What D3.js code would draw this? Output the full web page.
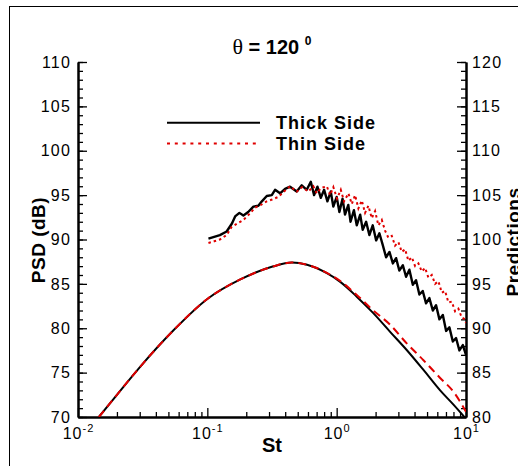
<!DOCTYPE html>
<html>
<head>
<meta charset="utf-8">
<script src="https://cdn.jsdelivr.net/npm/d3@7"></script>
<style>
  html, body { margin: 0; padding: 0; background: #fff; }
  svg { display: block; }
  text { font-family: "Liberation Sans", Arial, sans-serif; fill: #000; }
</style>
</head>
<body>
<svg id="chart" width="518" height="466"></svg>
<script>
// ---------------- DATA ----------------
const titleAngle = "120";
const xTickValues = [0.01, 0.1, 1, 10];
const xTickExps = ["-2", "-1", "0", "1"];
const yLeftTicks = [70, 75, 80, 85, 90, 95, 100, 105, 110];
const yRightTicks = [80, 85, 90, 95, 100, 105, 110, 115, 120];
const seriesNames = ["Thick Side", "Thin Side"];

// measured spectra (left axis, PSD dB)
const thickSt = [0.102,0.125,0.141,0.155,0.164,0.177,0.190,0.207,0.227,0.248,0.264,0.288,0.315,0.334,0.365,0.399,0.436,0.491,0.537,0.587,0.631,0.669,0.710,0.754,0.800,0.848,0.900,0.942,1.00,1.05,1.11,1.16,1.23,1.28,1.36,1.43,1.52,1.59,1.69,1.79,1.90,2.02,2.14,2.27,2.41,2.56,2.72,2.88,3.05,3.25,3.44,3.65,3.88,4.11,4.36,4.63,4.91,5.21,5.54,5.87,6.23,6.62,7.02,7.44,7.91,8.38,8.89,9.45,10.0];
const thickPSD = [90.1,90.5,90.9,91.8,92.6,93.0,92.7,93.1,93.7,93.8,94.3,94.9,95.0,95.6,95.2,95.7,95.95,95.4,96.1,95.6,96.5,95.0,95.95,94.7,95.6,94.3,95.4,93.7,94.8,93.1,94.6,92.8,93.9,92.0,93.3,91.6,92.8,91.1,92.0,90.5,91.6,89.9,90.7,89.4,88.0,88.6,87.3,87.9,86.5,87.1,85.8,86.6,84.9,85.4,83.8,84.2,82.8,83.4,82.0,82.6,81.0,81.5,79.7,80.1,78.5,78.9,77.5,78.1,77.0];

const thinSt = [0.102,0.113,0.125,0.141,0.154,0.170,0.190,0.214,0.234,0.260,0.288,0.317,0.354,0.392,0.436,0.491,0.540,0.604,0.660,0.702,0.757,0.839,0.889,0.943,1.007,1.076,1.141,1.232,1.309,1.388,1.472,1.564,1.658,1.759,1.868,1.982,2.101,2.233,2.367,2.511,2.668,2.829,3.001,3.188,3.381,3.585,3.809,4.041,4.285,4.552,4.828,5.120,5.439,5.768,6.117,6.498,6.894,7.311,7.766,8.235,8.733,9.279,9.84,10.0];
const thinPSD = [89.6,89.8,90.0,90.5,91.4,91.8,92.2,92.95,93.6,93.9,94.3,94.5,94.8,95.4,96.0,95.4,95.9,95.4,96.0,95.2,95.8,96.0,95.0,95.9,94.6,95.6,94.3,95.2,94.0,95.0,93.5,94.4,93.0,93.8,92.4,93.2,91.6,92.2,91.0,90.2,90.4,89.3,89.7,88.6,88.9,87.6,88.0,87.0,87.3,86.4,86.8,85.7,86.0,85.0,85.3,84.0,84.2,82.9,83.0,81.9,82.2,81.2,81.0,80.6];

// predictions (right axis)
const predSt = [0.0145,0.02,0.03,0.055,0.1,0.18,0.32,0.45,0.59,0.84,1.06,1.43,1.92,2.59,3.48,4.69,6.31,8.0,10];
const predThick = [80.0,82.5,85.6,89.8,93.3,95.5,96.95,97.4,97.15,96.2,95.25,93.56,91.7,89.6,87.55,85.3,83.0,81.4,79.8];
const predThin  = [80.0,82.5,85.6,89.8,93.3,95.5,96.95,97.4,97.15,96.25,95.35,93.75,92.0,90.4,88.3,86.4,84.4,82.85,80.6];

// ---------------- LAYOUT ----------------
const L = 78, R = 466, T = 62, B = 417;
const RED = "#e00000";
const svg = d3.select("#chart");

// outer frame
svg.append("rect").attr("x", 9.5).attr("y", 6.5).attr("width", 600).attr("height", 600)
  .attr("fill", "none").attr("stroke", "#000").attr("stroke-width", 1);

const x = d3.scaleLog().domain([0.01, 10]).range([L, R]);
const yL = d3.scaleLinear().domain([70, 110]).range([B, T]);
const yR = d3.scaleLinear().domain([80, 120]).range([B, T]);

svg.append("clipPath").attr("id", "clip").append("rect")
  .attr("x", L).attr("y", T).attr("width", R - L).attr("height", B - T);

// minor tick values
const xMinor = [];
[0.01, 0.1, 1].forEach(d => { for (let k = 2; k <= 9; k++) xMinor.push(d * k); });
const yLMinor = d3.range(70, 111, 1);
const yRMinor = d3.range(80, 121, 1);

function styleAxis(g) {
  g.selectAll("line").attr("stroke", "#000").attr("stroke-width", 1.3);
  g.selectAll("path").attr("stroke", "#000").attr("stroke-width", 2);
}

// left axis
const gL = svg.append("g").attr("transform", `translate(${L},0)`);
gL.call(d3.axisLeft(yL).tickValues(yLMinor).tickSizeInner(-5).tickSizeOuter(0).tickFormat(""));
styleAxis(gL);
const gL2 = svg.append("g").attr("transform", `translate(${L},0)`);
gL2.call(d3.axisLeft(yL).tickValues(yLeftTicks).tickSizeInner(-9).tickSizeOuter(0).tickPadding(7).tickFormat(d3.format("d")));
styleAxis(gL2);
gL2.selectAll("text").attr("font-size", 16).attr("letter-spacing", 1.2);

// right axis
const gR = svg.append("g").attr("transform", `translate(${R},0)`);
gR.call(d3.axisRight(yR).tickValues(yRMinor).tickSizeInner(-5).tickSizeOuter(0).tickFormat(""));
styleAxis(gR);
const gR2 = svg.append("g").attr("transform", `translate(${R},0)`);
gR2.call(d3.axisRight(yR).tickValues(yRightTicks).tickSizeInner(-9).tickSizeOuter(0).tickPadding(6).tickFormat(d3.format("d")));
styleAxis(gR2);
gR2.selectAll("text").attr("font-size", 16).attr("letter-spacing", 1.2);

// bottom axis
const gB = svg.append("g").attr("transform", `translate(0,${B})`);
gB.call(d3.axisBottom(x).tickValues(xMinor).tickSizeInner(-5).tickSizeOuter(0).tickFormat(""));
styleAxis(gB);
const gB2 = svg.append("g").attr("transform", `translate(0,${B})`);
gB2.call(d3.axisBottom(x).tickValues(xTickValues).tickSizeInner(-9).tickSizeOuter(0).tickPadding(11).tickFormat(""));
styleAxis(gB2);
gB2.selectAll(".tick text").each(function (d, i) {
  const t = d3.select(this).attr("font-size", 16).attr("letter-spacing", 1);
  t.text(null);
  t.append("tspan").text("10");
  t.append("tspan").attr("dy", -7).attr("font-size", 11).text(xTickExps[i]);
});
svg.selectAll(".domain").attr("stroke-width", 2);

// ---------------- LINES ----------------
const plot = svg.append("g").attr("clip-path", "url(#clip)");
const lineL = d3.line().x(d => x(d[0])).y(d => yL(d[1]));
const lineR = d3.line().x(d => x(d[0])).y(d => yR(d[1])).curve(d3.curveMonotoneX);

plot.append("path").datum(predSt.map((s, i) => [s, predThick[i]]))
  .attr("d", lineR).attr("fill", "none").attr("stroke", "#000").attr("stroke-width", 2);
plot.append("path").datum(predSt.map((s, i) => [s, predThin[i]]))
  .attr("d", lineR).attr("fill", "none").attr("stroke", RED).attr("stroke-width", 2)
  .attr("stroke-dasharray", "8,5");

plot.append("path").datum(thickSt.map((s, i) => [s, thickPSD[i]]))
  .attr("d", lineL).attr("fill", "none").attr("stroke", "#000").attr("stroke-width", 2.4)
  .attr("stroke-linejoin", "round");
plot.append("path").datum(thinSt.map((s, i) => [s, thinPSD[i]]))
  .attr("d", lineL).attr("fill", "none").attr("stroke", RED).attr("stroke-width", 2)
  .attr("stroke-dasharray", "2.5,3");

// ---------------- LEGEND ----------------
const legY = [122.7, 143.5];
svg.append("line").attr("x1", 167).attr("x2", 260).attr("y1", legY[0]).attr("y2", legY[0])
  .attr("stroke", "#000").attr("stroke-width", 2);
svg.append("line").attr("x1", 167).attr("x2", 260).attr("y1", legY[1]).attr("y2", legY[1])
  .attr("stroke", RED).attr("stroke-width", 2).attr("stroke-dasharray", "3,4.8");
seriesNames.forEach((n, i) => {
  svg.append("text").attr("x", 276).attr("y", legY[i] + 6.5)
    .attr("font-size", 18).attr("font-weight", "bold").attr("letter-spacing", 1).text(n);
});

// ---------------- TITLES ----------------
const title = svg.append("text").attr("x", 272).attr("y", 54).attr("text-anchor", "middle")
  .attr("font-size", 20).attr("font-weight", "bold");
title.append("tspan").attr("font-family", "'Liberation Serif', 'DejaVu Serif', serif")
  .attr("font-weight", "normal").attr("font-size", 22).text("θ");
title.append("tspan").text(" = " + titleAngle + " ");
title.append("tspan").attr("dy", -9).attr("font-size", 12).text("0");

svg.append("text").attr("x", 272).attr("y", 452).attr("text-anchor", "middle")
  .attr("font-size", 20).attr("font-weight", "bold").text("St");

svg.append("text").attr("transform", "translate(45,240) rotate(-90)").attr("text-anchor", "middle")
  .attr("font-size", 19).attr("font-weight", "bold").attr("letter-spacing", 0.5).text("PSD (dB)");
svg.append("text").attr("transform", "translate(520,242) rotate(-90)").attr("text-anchor", "middle")
  .attr("font-size", 19).attr("font-weight", "bold").attr("letter-spacing", 0.5).text("Predictions");
</script>
</body>
</html>
